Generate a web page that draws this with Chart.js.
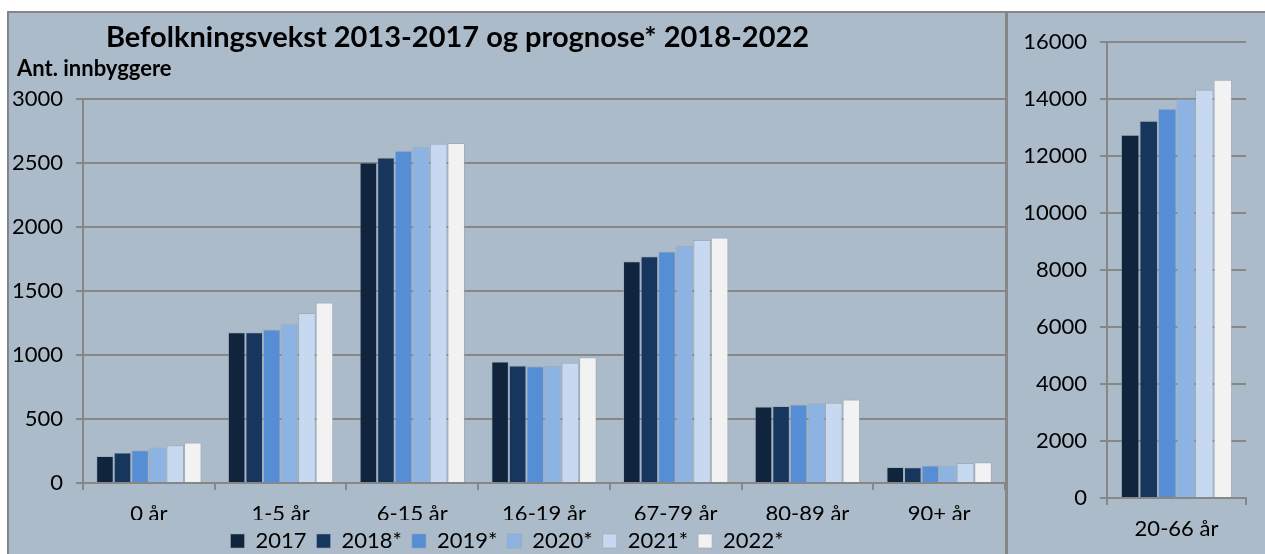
<!DOCTYPE html>
<html>
<head>
<meta charset="utf-8">
<script src="https://cdn.jsdelivr.net/npm/chart.js@4.4.1/dist/chart.umd.min.js"></script>
<style>
  html, body { margin:0; padding:0; background:#ffffff; width:1265px; height:554px; overflow:hidden; }
  #bg { position:absolute; left:7px; top:11px; width:1256px; height:541px; background:#ACBBC9; border-top:2px solid #868686; border-left:2px solid #868686; }
  #divider { position:absolute; left:1005px; top:11px; width:3px; height:543px; background:#868686; }
  .clip { position:absolute; overflow:hidden; }
  #clipL { left:9px; top:13px; width:996px; height:541px; }
  #clipR { left:1008px; top:13px; width:257px; height:541px; }
  canvas { display:block; }
</style>
</head>
<body>
<div id="bg"></div>
<div id="clipL" class="clip"><canvas id="left" width="996" height="549"></canvas></div>
<div id="clipR" class="clip"><canvas id="right" width="257" height="541"></canvas></div>
<div id="divider"></div>
<script>
// ---- Data ----
const categories = ['0 år', '1-5 år', '6-15 år', '16-19 år', '67-79 år', '80-89 år', '90+ år'];
const years = ['2017', '2018*', '2019*', '2020*', '2021*', '2022*'];
const v2017 = [210, 1177, 2504, 950, 1732, 598, 125];
const v2018 = [238, 1178, 2543, 918, 1772, 602, 123];
const v2019 = [256, 1200, 2596, 913, 1808, 613, 136];
const v2020 = [277, 1244, 2627, 914, 1852, 624, 136];
const v2021 = [295, 1328, 2650, 939, 1899, 626, 156];
const v2022 = [316, 1411, 2656, 983, 1917, 652, 162];
const workCategory = ['20-66 år'];
const workValues = [12747, 13238, 13659, 14010, 14326, 14677]; // 2017..2022*
const titleText = 'Befolkningsvekst 2013-2017 og prognose* 2018-2022';
const yAxisTitle = 'Ant. innbyggere';

// ---- Styles ----
const colors = ['#10243E', '#17365D', '#558ED5', '#8DB3E2', '#C6D9F1', '#F2F2F2'];
const edge = 'rgba(150,162,178,0.55)';
const gridColor = '#878787';
const FONT = 'Lato';
const FS = 22;

function build() {
  Chart.defaults.font.family = FONT;
  Chart.defaults.color = '#000';

  const seriesList = [v2017, v2018, v2019, v2020, v2021, v2022];
  const leftDatasets = seriesList.map((d, i) => ({
    label: years[i], data: d, backgroundColor: colors[i], borderColor: edge, borderWidth: 1,
    categoryPercentage: 0.8, barPercentage: 1.0
  }));

  const titlePlugin = {
    id: 'titles',
    afterDraw(chart) {
      const ctx = chart.ctx;
      ctx.save();
      ctx.fillStyle = '#000';
      ctx.textBaseline = 'alphabetic';
      ctx.font = 'bold 29px ' + FONT;
      ctx.textAlign = 'center';
      ctx.fillText(titleText, 448.5, 34);
      ctx.font = 'bold 22px ' + FONT;
      ctx.textAlign = 'left';
      ctx.fillText(yAxisTitle, 8, 63);
      ctx.restore();
    }
  };

  const plain = v => String(v);

  new Chart(document.getElementById('left'), {
    type: 'bar',
    data: { labels: categories, datasets: leftDatasets },
    options: {
      responsive: false, animation: false, devicePixelRatio: 1,
      layout: { padding: { top: 86, left: 0, right: 0, bottom: 0 } },
      plugins: {
        legend: {
          position: 'bottom',
          labels: { boxWidth: 14, boxHeight: 14, padding: 10, font: { size: FS }, color: '#000' }
        },
        title: { display: false },
        tooltip: { enabled: false }
      },
      scales: {
        x: {
          grid: { offset: true, drawOnChartArea: false, drawTicks: true, tickLength: 7, color: gridColor, lineWidth: 2 },
          border: { display: true, color: gridColor, width: 2 },
          ticks: { font: { size: FS }, color: '#000', padding: 11, maxRotation: 0, autoSkip: false },
          afterFit(s) { s.height = 37; }
        },
        y: {
          min: 0, max: 3000,
          grid: { color: gridColor, lineWidth: 2, tickLength: 7, drawTicks: true },
          border: { display: true, color: gridColor, width: 2 },
          ticks: { stepSize: 500, font: { size: FS }, color: '#000', padding: 13, callback: plain },
          afterFit(s) { s.width = 74; }
        }
      }
    },
    plugins: [titlePlugin]
  });

  const rightDatasets = workValues.map((v, i) => ({
    label: years[i], data: [v], backgroundColor: colors[i], borderColor: edge, borderWidth: 1,
    categoryPercentage: 0.8, barPercentage: 1.0
  }));

  new Chart(document.getElementById('right'), {
    type: 'bar',
    data: { labels: workCategory, datasets: rightDatasets },
    options: {
      responsive: false, animation: false, devicePixelRatio: 1,
      layout: { padding: { top: 29, left: 0, right: 19, bottom: 0 } },
      plugins: { legend: { display: false }, title: { display: false }, tooltip: { enabled: false } },
      scales: {
        x: {
          grid: { offset: true, drawOnChartArea: false, drawTicks: true, tickLength: 7, color: gridColor, lineWidth: 2 },
          border: { display: true, color: gridColor, width: 2 },
          ticks: { font: { size: FS }, color: '#000', padding: 11, maxRotation: 0 },
          afterFit(s) { s.height = 56; }
        },
        y: {
          min: 0, max: 16000,
          grid: { color: gridColor, lineWidth: 2, tickLength: 7, drawTicks: true },
          border: { display: true, color: gridColor, width: 2 },
          ticks: { stepSize: 2000, font: { size: FS }, color: '#000', padding: 13, callback: plain },
          afterFit(s) { s.width = 99; }
        }
      }
    }
  });
}

Promise.all([
  document.fonts.load(FS + 'px ' + FONT),
  document.fonts.load('bold 29px ' + FONT)
]).then(build, build);
</script>
</body>
</html>
